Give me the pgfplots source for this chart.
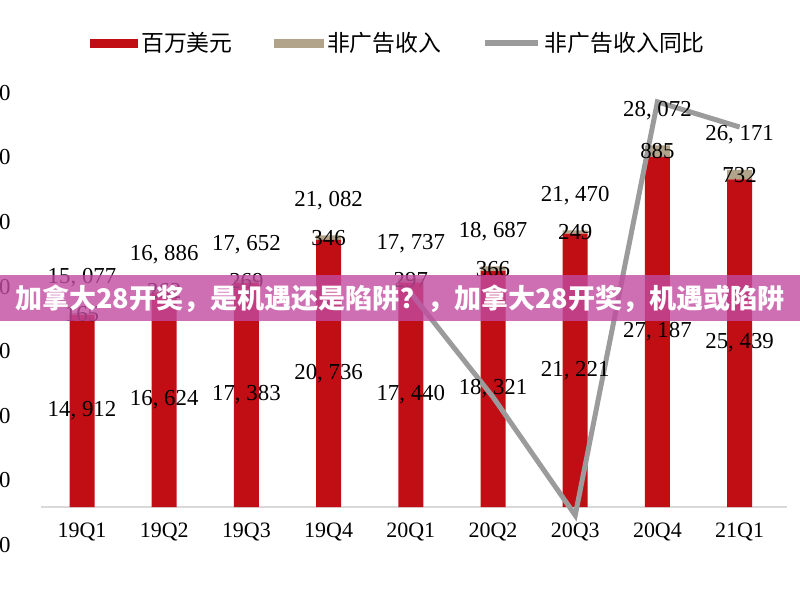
\documentclass[border=0pt]{standalone}
\usepackage{pgfplots}
\pgfplotsset{compat=1.18}
\usepackage{pgfplotstable}
\usepackage{fontspec}
\setmainfont{Liberation Serif}
\newfontfamily\cjk{Noto Sans CJK SC}
\definecolor{mred}{RGB}{192,14,20}
\definecolor{mtan}{RGB}{178,164,138}
\definecolor{mgray}{RGB}{155,155,155}
\definecolor{bpink}{RGB}{195,75,160}
\definecolor{baxis}{RGB}{217,217,217}

\pgfplotstableread{
x red tan total
0 14912 165 15077
1 16624 262 16886
2 17383 269 17652
3 20736 346 21082
4 17440 297 17737
5 18321 366 18687
6 21221 249 21470
7 27187 885 28072
8 25439 732 26171
}\bardata

\pgfplotstableread{
x yoy
4 39.0
5 22.9
6 4.6
7 68.6
8 64.7
}\linedata

\pgfplotsset{
  numlab/.style={
    draw=none, mark=none, nodes near coords,
    every node near coord/.append style={anchor=center, text=black,
      font=\fontsize{13}{15}\selectfont,
      /pgf/number format/fixed, /pgf/number format/precision=0,
      /pgf/number format/1000 sep={,\ }, /pgf/number format/assume math mode=true}
  }
}

\begin{document}
\begin{tikzpicture}[x=1cm,y=1cm]
\useasboundingbox (0,0) rectangle (16,12);
\clip (0,0) rectangle (16,12);

% bars
\begin{axis}[
  at={(0.818cm,1.86cm)}, anchor=south west, scale only axis,
  width=14.928cm, height=7.728cm,
  xmin=-0.5, xmax=8.58, ymin=0, ymax=30000,
  ybar stacked, bar width=0.5cm,
  axis x line*=bottom, axis y line=none,
  x axis line style={draw=baxis, line width=1.2pt},
  xtick={0,...,8},
  xticklabels={19Q1,19Q2,19Q3,19Q4,20Q1,20Q2,20Q3,20Q4,21Q1},
  major tick length=0,
  xticklabel style={font=\fontsize{12.5}{14}\selectfont, yshift=-0.2cm},
  legend columns=3,
  legend style={at={(0.4798,1.2008)}, anchor=center, draw=none, fill=none,
    font=\cjk\fontsize{13}{15}\selectfont,
    /tikz/every even column/.append style={column sep=0.75cm}},
  legend cell align=left,
]
\addplot[fill=mred, draw=none,
  legend image code/.code={\fill[mred] (0cm,-0.09cm) rectangle (0.96cm,0.09cm);}]
  table[x=x,y=red]{\bardata};
\addplot[fill=mtan, draw=none,
  legend image code/.code={\fill[mtan] (0cm,-0.09cm) rectangle (1.0cm,0.09cm);}]
  table[x=x,y=tan]{\bardata};
\addlegendimage{legend image code/.code={\draw[mgray, line width=0.12cm] (0cm,0cm) -- (1.06cm,0cm);}}
\legend{百万美元,非广告收入,非广告收入同比}
\end{axis}

% line on secondary axis
\begin{axis}[
  at={(0.818cm,1.1cm)}, anchor=south west, scale only axis,
  width=14.928cm, height=9.044cm,
  xmin=-0.5, xmax=8.58, ymin=0, ymax=70, clip=false,
  hide x axis, axis y line*=left, y axis line style={draw=none},
  ytick={0,10,20,30,40,50,60,70},
  yticklabels={0,10,20,30,40,50,60,70},
  major tick length=0,
  yticklabel style={anchor=east, inner sep=0pt, xshift=-0.6cm, font=\fontsize{13}{15}\selectfont},
]
\addplot[mgray, line width=0.1cm, mark=none] table[x=x,y=yoy]{\linedata};
\end{axis}

% data labels
\begin{axis}[
  at={(0.818cm,1.86cm)}, anchor=south west, scale only axis,
  width=14.928cm, height=7.728cm,
  xmin=-0.5, xmax=8.58, ymin=0, ymax=30000,
  hide axis, clip=false,
]
\addplot[numlab, point meta=\thisrow{red}] table[x=x, y expr=\thisrow{red}/2]{\bardata};
\addplot[numlab, point meta=\thisrow{tan}] table[x=x, y expr=\thisrow{red}+\thisrow{tan}/2]{\bardata};
\addplot[numlab, point meta=\thisrow{total}, every node near coord/.append style={yshift=0.7cm}] table[x=x, y=total]{\bardata};
\end{axis}

% overlay banner
\fill[bpink, opacity=0.8] (0,5.58) rectangle (16,6.5);
\node[text=white, font=\cjk\bfseries\fontsize{15.4}{18}\selectfont, inner sep=0pt] at (8,6.03)
  {加拿大28开奖，是机遇还是陷阱？，加拿大28开奖，机遇或陷阱};
\end{tikzpicture}
\end{document}
